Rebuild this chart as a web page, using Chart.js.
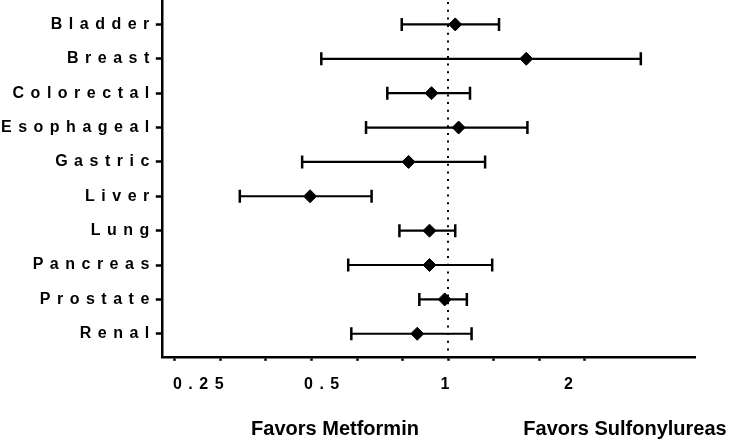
<!DOCTYPE html>
<html>
<head>
<meta charset="utf-8">
<script src="https://cdn.jsdelivr.net/npm/chart.js@4/dist/chart.umd.min.js"></script>
<style>
  html, body { margin: 0; padding: 0; background: #fff; }
  #wrap { width: 731px; height: 441px; }
</style>
</head>
<body>
<div id="wrap"><canvas id="myChart"></canvas></div>
<script>
const categories = ['Bladder', 'Breast', 'Colorectal', 'Esophageal', 'Gastric', 'Liver', 'Lung', 'Pancreas', 'Prostate', 'Renal'];
const estimates = [1.04, 1.55, 0.91, 1.06, 0.80, 0.46, 0.90, 0.90, 0.98, 0.84];
const lower = [0.77, 0.49, 0.71, 0.63, 0.44, 0.31, 0.76, 0.57, 0.85, 0.58];
const upper = [1.33, 2.95, 1.13, 1.56, 1.23, 0.65, 1.04, 1.28, 1.11, 1.14];
const tickLabels = [0.25, 0.5, 1, 2];
const tickMarks = [0.215, 0.278, 0.359, 0.464, 0.599, 0.774, 1, 1.29, 1.67, 2.15];
const refValue = 1;
const leftNote = 'Favors Metformin';
const rightNote = 'Favors Sulfonylureas';

const FONT = "'Liberation Sans', Arial, sans-serif";
const LS = '6.5px';
const allTicks = [...new Set([...tickMarks, ...tickLabels])].sort((a, b) => a - b);

// letter spaced axis labels like the original
const spacing = {
    id: 'spacing',
    beforeUpdate(chart) { chart.ctx.letterSpacing = LS; },
    beforeDraw(chart) { chart.ctx.letterSpacing = LS; }
};

const forest = {
    id: 'forest',
    beforeDatasetsDraw(chart) {
        const { ctx, chartArea, scales: { x, y } } = chart;
        ctx.save();
        // reference line at 1
        ctx.strokeStyle = '#000';
        ctx.lineWidth = 2;
        ctx.setLineDash([2, 5.7]);
        const rx = Math.round(x.getPixelForValue(refValue));
        ctx.beginPath();
        ctx.moveTo(rx, chartArea.top + 2);
        ctx.lineTo(rx, chartArea.bottom);
        ctx.stroke();
        ctx.setLineDash([]);
        // error bars
        categories.forEach((c, i) => {
            const py = y.getPixelForValue(i);
            const x0 = x.getPixelForValue(lower[i]);
            const x1 = x.getPixelForValue(upper[i]);
            ctx.lineWidth = 2.2;
            ctx.beginPath();
            ctx.moveTo(x0, py);
            ctx.lineTo(x1, py);
            ctx.stroke();
            ctx.lineWidth = 2.5;
            ctx.beginPath();
            ctx.moveTo(x0, py - 6.5);
            ctx.lineTo(x0, py + 6.5);
            ctx.moveTo(x1, py - 6.5);
            ctx.lineTo(x1, py + 6.5);
            ctx.stroke();
        });
        ctx.restore();
    },
    afterDraw(chart) {
        const ctx = chart.ctx;
        ctx.save();
        ctx.letterSpacing = '0px';
        ctx.fillStyle = '#000';
        ctx.font = 'bold 20px ' + FONT;
        ctx.textAlign = 'center';
        ctx.textBaseline = 'middle';
        ctx.fillText(leftNote, 335, 429);
        ctx.fillText(rightNote, 625, 429);
        ctx.restore();
        ctx.letterSpacing = LS;
    }
};

const ctx = document.getElementById('myChart').getContext('2d');

let chart = new Chart(ctx, {
    type: 'scatter',
    data: {
        datasets: [{
            data: categories.map((c, i) => ({ x: estimates[i], y: i })),
            pointStyle: 'rectRot',
            pointRadius: 6.5,
            backgroundColor: '#000',
            borderColor: '#000',
            borderWidth: 1
        }]
    },
    options: {
        responsive: true,
        maintainAspectRatio: false,
        animation: false,
        layout: { autoPadding: false, padding: { left: 1, right: 36, top: 0, bottom: 33 } },
        plugins: { legend: { display: false }, tooltip: { enabled: false } },
        scales: {
            x: {
                type: 'logarithmic',
                min: 0.2,
                max: 4,
                afterBuildTicks: s => { s.ticks = allTicks.map(v => ({ value: v })); },
                border: { display: true, color: '#000', width: 2.5 },
                grid: {
                    display: true,
                    drawOnChartArea: false,
                    drawTicks: true,
                    tickLength: 4,
                    tickWidth: 2.5,
                    tickColor: c => (c.tick && tickMarks.includes(c.tick.value)) ? '#000' : 'rgba(0,0,0,0)'
                },
                ticks: {
                    autoSkip: false,
                    maxRotation: 0,
                    padding: 14,
                    color: '#000',
                    font: { family: FONT, size: 16, weight: 'bold' },
                    callback: v => tickLabels.includes(v) ? String(v) : ''
                }
            },
            y: {
                type: 'linear',
                reverse: true,
                min: -0.71,
                max: 9.67,
                afterBuildTicks: s => { s.ticks = categories.map((c, i) => ({ value: i })); },
                afterFit: s => { s.paddingTop = 0; s.paddingBottom = 0; },
                border: { display: true, color: '#000', width: 2.5 },
                grid: {
                    display: true,
                    drawOnChartArea: false,
                    drawTicks: true,
                    tickLength: 6,
                    tickWidth: 2.5,
                    tickColor: '#000'
                },
                ticks: {
                    autoSkip: false,
                    padding: 0,
                    color: '#000',
                    font: { family: FONT, size: 16, weight: 'bold' },
                    callback: v => categories[v]
                }
            }
        }
    },
    plugins: [spacing, forest]
});
</script>
</body>
</html>
